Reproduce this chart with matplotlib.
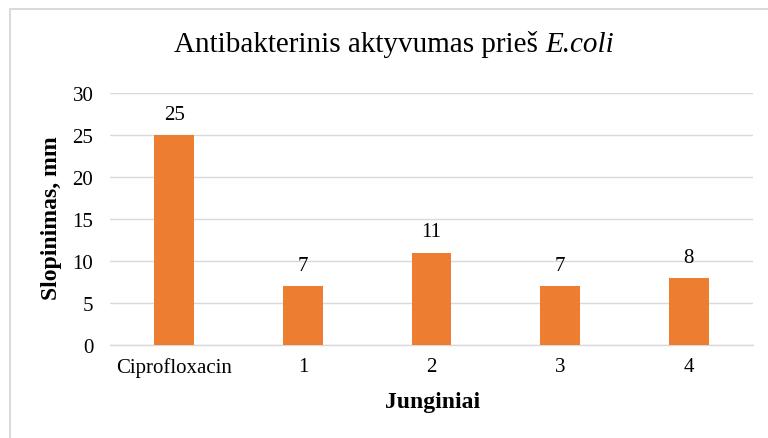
import matplotlib.pyplot as plt
from matplotlib.patches import Rectangle

categories = ["Ciprofloxacin", "1", "2", "3", "4"]
inhibition_mm = [25, 7, 11, 7, 8]
y_ticks = [0, 5, 10, 15, 20, 25, 30]

BAR = "#ED7D31"
GRID = "#D9D9D9"
W, H = 768, 439

plt.rcParams["font.family"] = ["Liberation Serif", "DejaVu Serif"]

fig = plt.figure(figsize=(W / 100, H / 100), dpi=100)
ax = fig.add_axes([110 / W, 1 - 346 / H, 643 / W, 252 / H])

x = range(len(categories))
bars = ax.bar(x, inhibition_mm, width=0.31, color=BAR, zorder=3)
for rect, v in zip(bars, inhibition_mm):
    ax.annotate(f"{v}", (rect.get_x() + rect.get_width() / 2, v),
                xytext=(0, 8), textcoords="offset points",
                ha="center", va="bottom", fontsize=15, color="#000000")

ax.set_xlim(-0.5, len(categories) - 0.5)
ax.set_ylim(0, 30)
ax.set_yticks(y_ticks)
ax.set_xticks(list(x))
ax.set_xticklabels(categories)
ax.tick_params(axis="both", length=0, labelsize=15, colors="#000000")
ax.tick_params(axis="y", pad=12)
ax.tick_params(axis="x", pad=9)
ax.grid(axis="y", color=GRID, linewidth=1.0, zorder=0)
for side in ("top", "right", "left"):
    ax.spines[side].set_visible(False)
ax.spines["bottom"].set_color(GRID)
ax.spines["bottom"].set_linewidth(1.0)

# axis titles placed in figure coordinates
fig.text(433 / W, 1 - 403 / H, "Junginiai", ha="center", va="center",
         fontsize=17, fontweight="bold")
fig.text(52 / W, 1 - 218 / H, "Slopinimas, mm", ha="center", va="center",
         rotation=90, fontsize=17, fontweight="bold")

# chart title: upright part followed by italic species name
renderer = fig.canvas.get_renderer()
base_y = 1 - 52 / H
t1 = fig.text(0, base_y, "Antibakterinis aktyvumas prieš ", fontsize=21,
              va="baseline")
t2 = fig.text(0, base_y, "E.coli", fontsize=21, style="italic", va="baseline")
w1 = t1.get_window_extent(renderer).width
w2 = t2.get_window_extent(renderer).width
start = 394 - (w1 + w2) / 2
t1.set_x(start / W)
t2.set_x((start + w1) / W)

# chart frame, its right and bottom edges run past the canvas
fig.patches.append(Rectangle((9.5 / W, -0.05), 1.1, 1 - 9.5 / H + 0.05,
                             transform=fig.transFigure, fill=False,
                             edgecolor=GRID, linewidth=1.4))

fig.savefig("out.png", dpi=100)
